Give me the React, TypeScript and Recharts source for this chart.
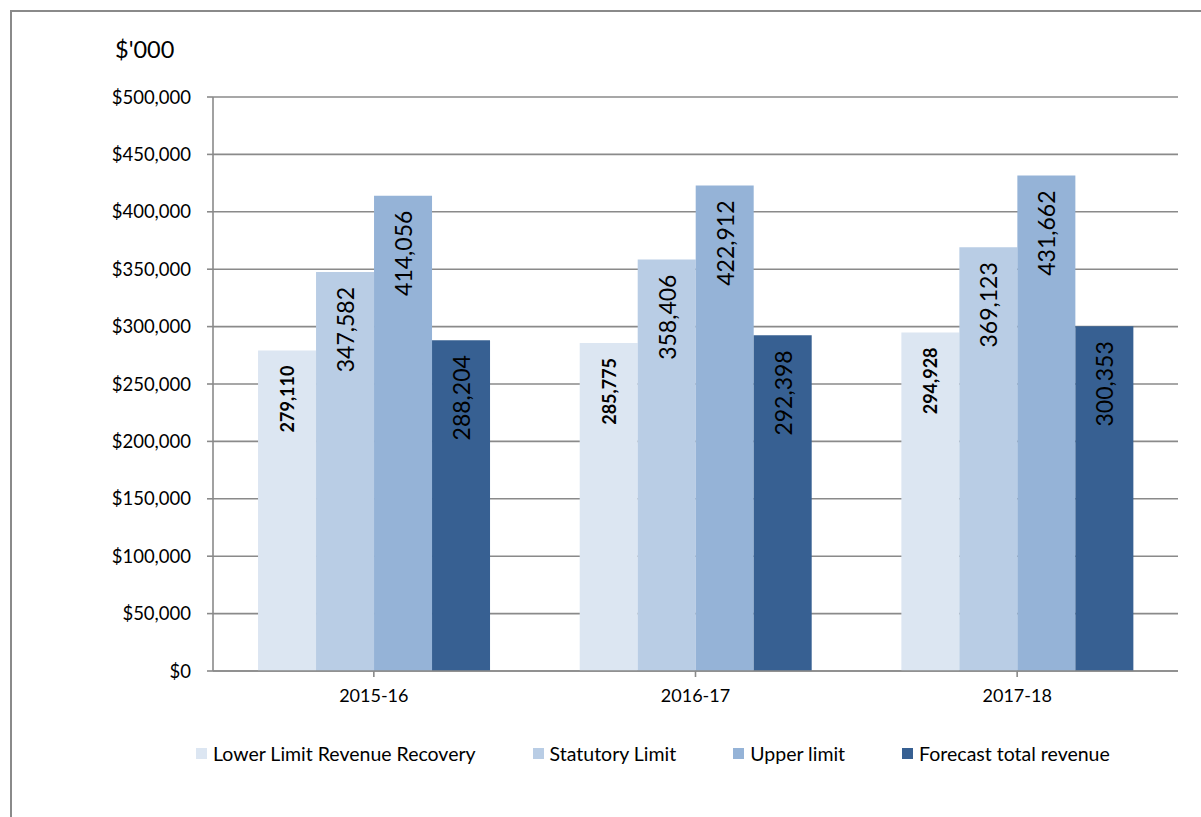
import { BarChart, Bar, XAxis, YAxis, CartesianGrid, Legend } from 'recharts';

const years = ['2015-16', '2016-17', '2017-18'];
const lowerLimit = [279110, 285775, 294928];
const statutoryLimit = [347582, 358406, 369123];
const upperLimit = [414056, 422912, 431662];
const forecastRevenue = [288204, 292398, 300353];
const yTicks = [0, 50000, 100000, 150000, 200000, 250000, 300000, 350000, 400000, 450000, 500000];

const data = years.map((year, i) => ({
    year,
    lower: lowerLimit[i],
    statutory: statutoryLimit[i],
    upper: upperLimit[i],
    forecast: forecastRevenue[i],
}));

const series = [
    { key: 'lower', name: 'Lower Limit Revenue Recovery', color: '#DCE6F2', bold: true, size: 18 },
    { key: 'statutory', name: 'Statutory Limit', color: '#B9CDE5', bold: false, size: 23 },
    { key: 'upper', name: 'Upper limit', color: '#95B3D7', bold: false, size: 23 },
    { key: 'forecast', name: 'Forecast total revenue', color: '#376092', bold: false, size: 23 },
];

const FONT = 'Lato, "Open Sans", sans-serif';
const GRID = '#8a8a8a';

const makeLabel = (bold: boolean, size: number) => (props: any) => {
    const { x, y, width, value } = props;
    const cx = Number(x) + Number(width) / 2;
    const cy = Number(y) + 15;
    return (
        <text
            x={cx}
            y={cy}
            transform={`rotate(-90, ${cx}, ${cy})`}
            textAnchor="end"
            dominantBaseline="central"
            fontFamily={FONT}
            fontSize={size}
            fontWeight={bold ? 700 : 400}
            fill="#000"
        >
            {Number(value).toLocaleString('en-US')}
        </text>
    );
};

const renderLegend = () => (
    <div style={{ display: 'flex', alignItems: 'center', fontFamily: FONT, fontSize: 19.5, color: '#000', whiteSpace: 'nowrap' }}>
        {series.map((s) => (
            <div key={s.key} style={{ display: 'flex', alignItems: 'center', marginRight: 57 }}>
                <span style={{ width: 11, height: 11, background: s.color, display: 'inline-block', marginRight: 6 }} />
                <span>{s.name}</span>
            </div>
        ))}
    </div>
);

export default function App() {
    return (
        <div style={{ position: 'absolute', left: 0, top: 0, width: 1201, height: 817, overflow: 'hidden', background: '#fff' }}>
            <div
                style={{
                    position: 'absolute',
                    left: 10,
                    top: 10,
                    width: 1300,
                    height: 900,
                    borderLeft: `2px solid ${GRID}`,
                    borderTop: `2px solid ${GRID}`,
                }}
            />
            <div style={{ position: 'absolute', left: 115, top: 35, fontFamily: FONT, fontSize: 23.5, color: '#000' }}>$'000</div>
            <div style={{ position: 'absolute', left: 0, top: 0 }}>
                <BarChart
                    width={1201}
                    height={817}
                    data={data}
                    margin={{ top: 97, right: 23, left: 113, bottom: 116 }}
                    barCategoryGap="14%"
                    barGap={0}
                >
                    <CartesianGrid vertical={false} stroke={GRID} strokeWidth={1.6} />
                    <XAxis
                        dataKey="year"
                        height={30}
                        tickSize={6}
                        tickMargin={12}
                        stroke={GRID}
                        strokeWidth={1.6}
                        tick={{ fill: '#000', fontFamily: FONT, fontSize: 18 }}
                    />
                    <YAxis
                        width={100}
                        domain={[0, 500000]}
                        ticks={yTicks}
                        interval={0}
                        tickSize={6}
                        tickMargin={16}
                        stroke={GRID}
                        strokeWidth={1.6}
                        tick={{ fill: '#000', fontFamily: FONT, fontSize: 18.5 }}
                        tickFormatter={(v) => `$${Number(v).toLocaleString('en-US')}`}
                    />
                    <Legend
                        layout="horizontal"
                        verticalAlign="middle"
                        align="center"
                        content={renderLegend}
                        wrapperStyle={{ left: 196, top: 742, width: 1000 }}
                    />
                    {series.map((s) => (
                        <Bar
                            key={s.key}
                            dataKey={s.key}
                            name={s.name}
                            fill={s.color}
                            isAnimationActive={false}
                            label={makeLabel(s.bold, s.size)}
                        />
                    ))}
                </BarChart>
            </div>
        </div>
    );
}
